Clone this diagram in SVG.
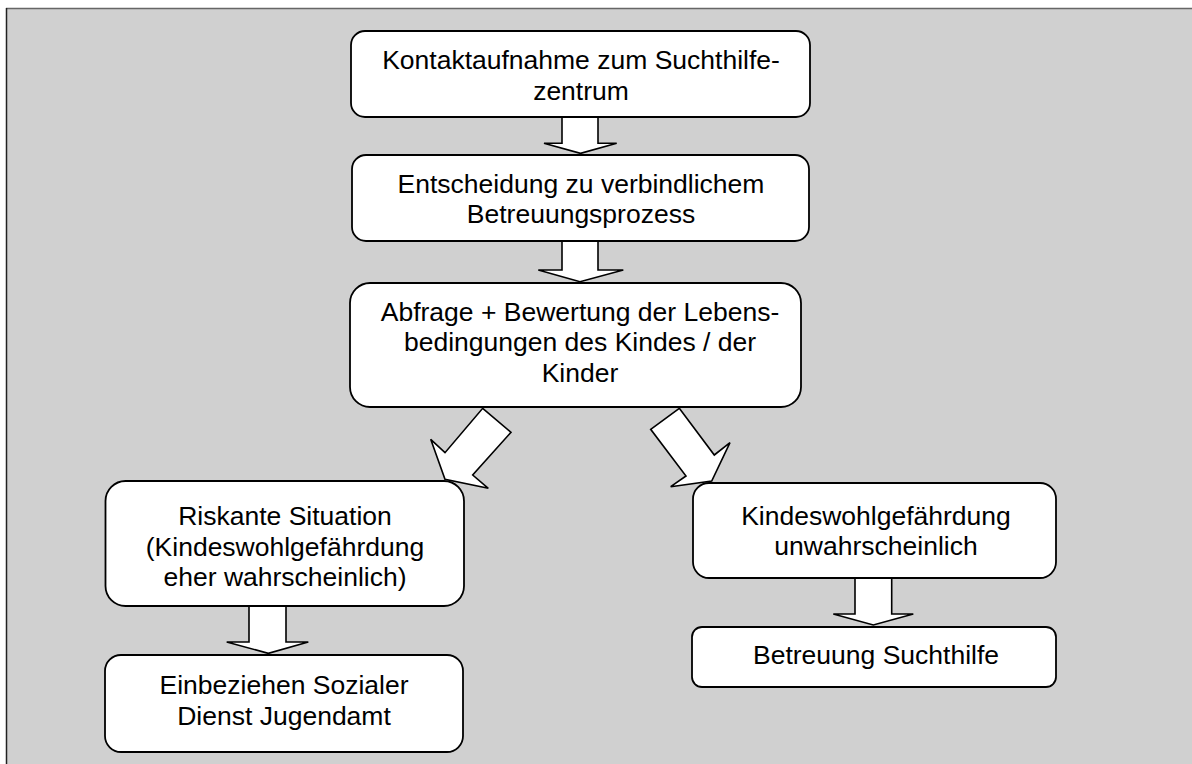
<svg xmlns="http://www.w3.org/2000/svg" width="1192" height="764" viewBox="0 0 1192 764">
<defs>
<style>
.box{fill:#ffffff;stroke:#000000;stroke-width:1.8}
.arr{fill:#ffffff;stroke:#000000;stroke-width:1.6;stroke-linejoin:miter}
.t{font-family:"Liberation Sans",Arial,sans-serif;font-size:26.5px;fill:#000000;text-anchor:middle}
</style>
</defs>
<rect x="0" y="0" width="1192" height="764" fill="#ffffff"/>
<rect x="6" y="8" width="1192" height="764" fill="#d0d0d0"/>
<line x1="6" y1="8.5" x2="1192" y2="8.5" stroke="#666666" stroke-width="1.5"/>
<line x1="6.5" y1="8" x2="6.5" y2="764" stroke="#222222" stroke-width="1.5"/>
<g id="connectors">
<polygon class="arr" points="562,117 598,117 598,143.3 616.7,143.3 580.5,153.3 544,143.3 562,143.3"/>
<polygon class="arr" points="562,241 598,241 598,270 623.3,270 580,281.7 538.3,270 562,270"/>
<polygon class="arr" points="482.7,408.3 511,432.3 472.7,475 488.3,488.3 445,479.3 430.7,439.3 445,452.7"/>
<polygon class="arr" points="679.3,408.3 714.3,455 730,442.7 711.7,481 670.7,486.7 686,476 650.7,429.3"/>
<polygon class="arr" points="249,605 286,605 286,642 308.3,642 268.3,653.3 226.7,642 249,642"/>
<polygon class="arr" points="855,578 891.7,578 891.7,614 913.3,614 873.3,625 833.3,614 855,614"/>
</g>
<g id="n1">
<rect class="box" x="351" y="31" width="459" height="86" rx="14" ry="14"/>
<text class="t" x="581" y="69">Kontaktaufnahme zum Suchthilfe-</text>
<text class="t" x="581" y="100">zentrum</text>
</g>
<g id="n2">
<rect class="box" x="352" y="155" width="457" height="86" rx="14" ry="14"/>
<text class="t" x="581" y="193">Entscheidung zu verbindlichem</text>
<text class="t" x="581" y="223">Betreuungsprozess</text>
</g>
<g id="n3">
<rect class="box" x="350" y="283" width="451" height="124" rx="20" ry="20"/>
<text class="t" x="580" y="321">Abfrage + Bewertung der Lebens-</text>
<text class="t" x="580" y="351">bedingungen des Kindes / der</text>
<text class="t" x="580" y="382">Kinder</text>
</g>
<g id="n4">
<rect class="box" x="105.5" y="481" width="358.5" height="125" rx="20" ry="20"/>
<text class="t" x="285" y="525">Riskante Situation</text>
<text class="t" x="285" y="556">(Kindeswohlgefährdung</text>
<text class="t" x="285" y="586">eher wahrscheinlich)</text>
</g>
<g id="n5">
<rect class="box" x="693" y="483" width="363" height="95" rx="16" ry="16"/>
<text class="t" x="876" y="525">Kindeswohlgefährdung</text>
<text class="t" x="876" y="555">unwahrscheinlich</text>
</g>
<g id="n6">
<rect class="box" x="105" y="655" width="358" height="97" rx="16" ry="16"/>
<text class="t" x="284" y="694">Einbeziehen Sozialer</text>
<text class="t" x="284" y="725">Dienst Jugendamt</text>
</g>
<g id="n7">
<rect class="box" x="692" y="627" width="364" height="60" rx="10" ry="10"/>
<text class="t" x="876" y="664">Betreuung Suchthilfe</text>
</g>
</svg>
